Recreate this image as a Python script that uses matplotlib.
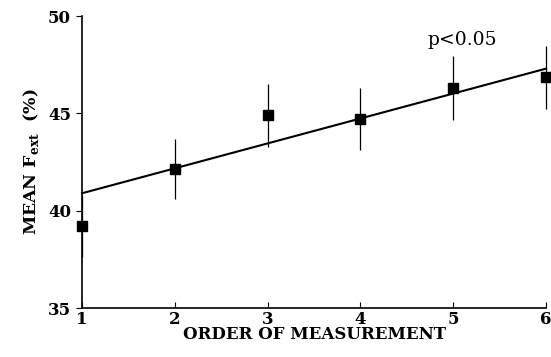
import numpy as np
import matplotlib.pyplot as plt

# data
order = [1, 2, 3, 4, 5, 6]
mean_fext = [39.2, 42.15, 44.9, 44.7, 46.3, 46.85]
err_fext = [1.6, 1.55, 1.6, 1.6, 1.65, 1.6]
# regression line as drawn
fit_intercept = 40.9
fit_slope = 1.28

plt.rcParams['font.family'] = ['DejaVu Serif']

fig = plt.figure(figsize=(5.51, 3.57), dpi=100)
ax = fig.add_axes([0.149, 0.137, 0.842, 0.818])

xs = np.array(order)
ax.plot(xs, fit_intercept + fit_slope * (xs - 1), color='black', lw=1.5, clip_on=False)
ax.errorbar(order, mean_fext, yerr=err_fext, fmt='s', color='black', ms=7,
            elinewidth=0.9, capsize=0, clip_on=False)

ax.text(5.1, 48.3, 'p<0.05', ha='center', va='bottom', fontsize=13.5)

ax.set_xlim(1, 6)
ax.set_ylim(35, 50)
ax.set_xticks(order)
ax.set_yticks([35, 40, 45, 50])
ax.spines['top'].set_visible(False)
ax.spines['right'].set_visible(False)
ax.spines['left'].set_linewidth(1.2)
ax.spines['bottom'].set_linewidth(1.2)
ax.tick_params(axis='x', direction='in', length=4, pad=2)
ax.tick_params(axis='y', direction='out', length=4, pad=4)
for lab in ax.get_xticklabels() + ax.get_yticklabels():
    lab.set_fontsize(12)
    lab.set_fontweight('bold')

ax.set_xlabel('ORDER OF MEASUREMENT', fontsize=12, fontweight='bold', labelpad=-1)
ax.set_ylabel(r'MEAN F$_{\mathregular{ext}}$  (%)', fontsize=12.5, fontweight='bold', labelpad=5)

fig.savefig('out.png', dpi=100)
